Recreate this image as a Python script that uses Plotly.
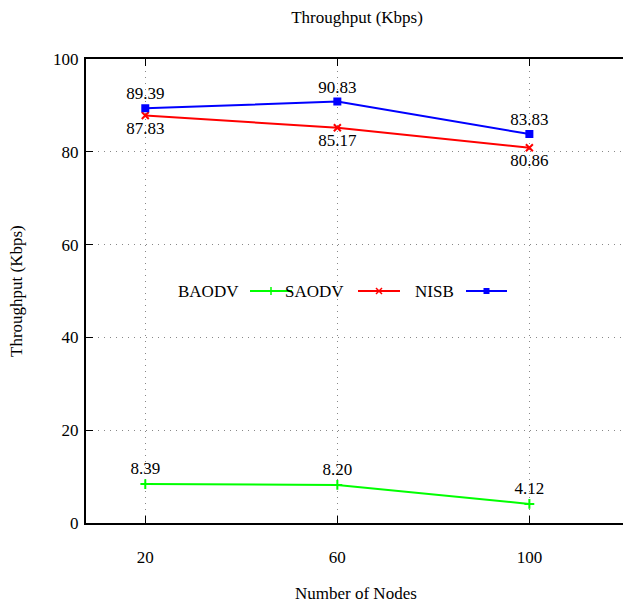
import plotly.graph_objects as go

nodes = [20, 60, 100]
baodv = [8.39, 8.20, 4.12]
saodv = [87.83, 85.17, 80.86]
nisb = [89.39, 90.83, 83.83]
series_names = ["BAODV", "SAODV", "NISB"]
y_ticks = [0, 20, 40, 60, 80, 100]

FONT = "Liberation Serif, Times New Roman, serif"
W, H = 623, 605
L, R, T, B = 86, 0, 59, 82
PW, PH = W - L - R, H - T - B

def px(xp):
    return (xp - L) / PW

def py(yp):
    return (H - B - yp) / PH

fig = go.Figure()

styles = [
    dict(color="#00ff00", symbol="cross-thin", size=7, pos="top center"),
    dict(color="#ff0000", symbol="x-thin", size=7, pos="bottom center"),
    dict(color="#0000ff", symbol="square", size=6, pos="top center"),
]

for name, vals, st in zip(series_names, [baodv, saodv, nisb], styles):
    fig.add_trace(go.Scatter(
        x=nodes, y=vals, mode="lines+markers+text", name=name,
        text=[f"{v:.2f}" for v in vals], textposition=st["pos"],
        textfont=dict(family=FONT, size=17, color="black"),
        line=dict(color=st["color"], width=2),
        marker=dict(color=st["color"], symbol=st["symbol"], size=st["size"],
                    line=dict(color=st["color"], width=2)),
        showlegend=False, cliponaxis=False,
    ))

# Custom key: label followed by line sample (gnuplot style)
key_y = 291
key = [
    ("BAODV", 241, 250, 292, "#00ff00", "plus"),
    ("SAODV", 346, 358, 400, "#ff0000", "x"),
    ("NISB", 456, 466, 507, "#0000ff", "square"),
]
shapes = []
annotations = []
for label, tx, x0, x1, col, mk in key:
    annotations.append(dict(text=label, x=px(tx), y=py(key_y), xref="paper", yref="paper",
                            xanchor="right", yanchor="middle", showarrow=False,
                            font=dict(family=FONT, size=17, color="black")))
    shapes.append(dict(type="line", xref="paper", yref="paper", x0=px(x0), x1=px(x1),
                       y0=py(key_y), y1=py(key_y), line=dict(color=col, width=2)))
    xm = (x0 + x1) / 2
    if mk == "plus":
        shapes.append(dict(type="line", xref="paper", yref="paper", x0=px(xm), x1=px(xm),
                           y0=py(key_y - 4), y1=py(key_y + 4), line=dict(color=col, width=1.5)))
    elif mk == "x":
        shapes.append(dict(type="line", xref="paper", yref="paper", x0=px(xm - 3), x1=px(xm + 3),
                           y0=py(key_y - 3), y1=py(key_y + 3), line=dict(color=col, width=1.5)))
        shapes.append(dict(type="line", xref="paper", yref="paper", x0=px(xm - 3), x1=px(xm + 3),
                           y0=py(key_y + 3), y1=py(key_y - 3), line=dict(color=col, width=1.5)))
    else:
        shapes.append(dict(type="rect", xref="paper", yref="paper", x0=px(xm - 3), x1=px(xm + 3),
                           y0=py(key_y - 3), y1=py(key_y + 3), line=dict(width=0), fillcolor=col))

# Axis titles as annotations (fixed positions)
annotations.append(dict(text="Number of Nodes", x=px(356), y=py(593), xref="paper", yref="paper",
                        xanchor="center", yanchor="middle", showarrow=False,
                        font=dict(family=FONT, size=17, color="black")))
annotations.append(dict(text="Throughput (Kbps)", x=px(16), y=py(291), xref="paper", yref="paper",
                        xanchor="center", yanchor="middle", showarrow=False, textangle=-90,
                        font=dict(family=FONT, size=17, color="black")))

fig.update_layout(
    width=W, height=H,
    margin=dict(l=L, r=R, t=T, b=B, autoexpand=False),
    paper_bgcolor="white", plot_bgcolor="white",
    font=dict(family=FONT, size=17, color="black"),
    title=dict(text="Throughput (Kbps)", xref="paper", x=px(357), xanchor="center",
               yref="container", y=1 - 17 / H, yanchor="middle",
               font=dict(family=FONT, size=17, color="black")),
    shapes=shapes, annotations=annotations,
)

fig.update_xaxes(
    range=[7.65, 119.5], tickvals=nodes, ticktext=[str(n) for n in nodes],
    ticks="inside", ticklen=7, tickwidth=1, tickcolor="black",
    showline=True, linewidth=2, linecolor="black", mirror="ticks",
    showgrid=True, gridcolor="#888888", griddash="1px,5px", gridwidth=1,
    zeroline=False, ticklabelstandoff=18, automargin=False,
)
fig.update_yaxes(
    range=[0, 100], tickvals=y_ticks, ticks="inside", ticklen=7, tickwidth=1, tickcolor="black",
    showline=True, linewidth=2, linecolor="black", mirror=False,
    showgrid=True, gridcolor="#888888", griddash="1px,5px", gridwidth=1,
    zeroline=False, ticklabelstandoff=2, automargin=False,
)

fig.write_html(
    "out.html",
    config={"displayModeBar": False},
    post_script="document.body.style.margin='0px';document.body.style.overflow='hidden';",
)
